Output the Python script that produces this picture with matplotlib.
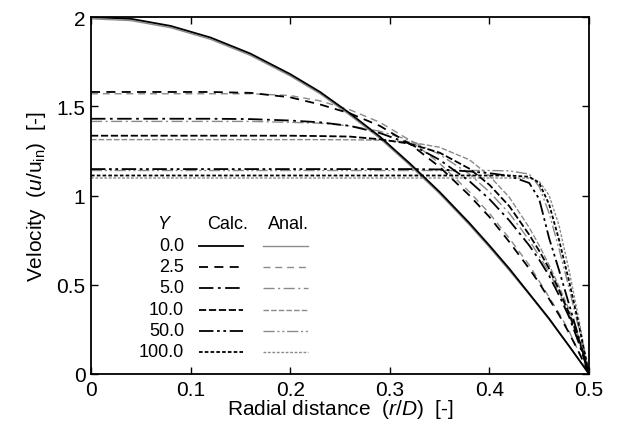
import numpy as np
import matplotlib
matplotlib.use("Agg")
import matplotlib.pyplot as plt

plt.rcParams['font.family'] = ['Liberation Sans', 'DejaVu Sans']
plt.rcParams['mathtext.fontset'] = 'custom'
plt.rcParams['mathtext.rm'] = 'Liberation Sans'
plt.rcParams['mathtext.it'] = 'Liberation Sans:italic'

# radial positions (r/D) shared by all profiles
r = [0, 0.04, 0.08, 0.12, 0.16, 0.2, 0.23, 0.26, 0.29, 0.32, 0.35,
     0.38, 0.40, 0.42, 0.44, 0.45, 0.46, 0.47, 0.48, 0.49, 0.5]

y_labels = ['0.0', '2.5', '5.0', '10.0', '50.0', '100.0']

# calculated profiles
calc_0 = [2.0, 1.99, 1.95, 1.885, 1.795, 1.68, 1.58, 1.46, 1.33, 1.18, 1.02,
          0.845, 0.72, 0.59, 0.45, 0.38, 0.31, 0.233, 0.157, 0.079, 0]
calc_2_5 = [1.58, 1.58, 1.58, 1.58, 1.575, 1.55, 1.51, 1.46, 1.39, 1.29, 1.16,
            1.0, 0.88, 0.74, 0.59, 0.51, 0.42, 0.33, 0.23, 0.12, 0]
calc_5 = [1.43, 1.43, 1.43, 1.43, 1.428, 1.42, 1.41, 1.39, 1.35, 1.29, 1.20,
          1.08, 0.98, 0.86, 0.72, 0.64, 0.55, 0.44, 0.32, 0.17, 0]
calc_10 = [1.335, 1.335, 1.335, 1.335, 1.335, 1.335, 1.333, 1.33, 1.315, 1.29, 1.24,
           1.15, 1.06, 0.94, 0.78, 0.69, 0.59, 0.47, 0.34, 0.19, 0]
calc_50 = [1.148, 1.148, 1.148, 1.148, 1.148, 1.148, 1.148, 1.148, 1.148, 1.148, 1.146,
           1.135, 1.125, 1.11, 1.07, 0.98, 0.76, 0.58, 0.39, 0.2, 0]
calc_100 = [1.112, 1.112, 1.112, 1.112, 1.112, 1.112, 1.112, 1.112, 1.112, 1.112, 1.112,
            1.112, 1.112, 1.112, 1.105, 1.07, 0.95, 0.75, 0.52, 0.27, 0]

# analytical profiles
anal_0 = [1.99, 1.98, 1.94, 1.875, 1.785, 1.67, 1.57, 1.45, 1.32, 1.17, 1.01,
          0.835, 0.71, 0.58, 0.445, 0.375, 0.305, 0.23, 0.155, 0.078, 0]
anal_2_5 = [1.57, 1.57, 1.57, 1.57, 1.57, 1.56, 1.53, 1.48, 1.41, 1.31, 1.18,
            1.02, 0.90, 0.76, 0.61, 0.52, 0.43, 0.34, 0.24, 0.12, 0]
anal_5 = [1.415, 1.415, 1.415, 1.415, 1.415, 1.41, 1.405, 1.39, 1.36, 1.31, 1.23,
          1.12, 1.02, 0.90, 0.75, 0.66, 0.57, 0.46, 0.33, 0.18, 0]
anal_10 = [1.313, 1.313, 1.313, 1.313, 1.313, 1.313, 1.313, 1.312, 1.31, 1.30, 1.27,
           1.20, 1.11, 0.99, 0.82, 0.72, 0.61, 0.49, 0.36, 0.20, 0]
anal_50 = [1.14, 1.14, 1.14, 1.14, 1.14, 1.14, 1.14, 1.14, 1.14, 1.14, 1.14,
           1.14, 1.14, 1.138, 1.12, 1.05, 0.90, 0.70, 0.48, 0.25, 0]
anal_100 = [1.098, 1.098, 1.098, 1.098, 1.098, 1.098, 1.098, 1.098, 1.098, 1.098, 1.098,
            1.098, 1.098, 1.098, 1.097, 1.08, 1.0, 0.83, 0.58, 0.30, 0]

calc = [calc_0, calc_2_5, calc_5, calc_10, calc_50, calc_100]
anal = [anal_0, anal_2_5, anal_5, anal_10, anal_50, anal_100]

styles = [
    '-',
    (0, (5, 3.5)),
    (0, (8, 2.5, 1.5, 2.5)),
    (0, (4, 1.5)),
    (0, (8, 2, 1.5, 2, 1.5, 2)),
    (0, (2, 1.2)),
]

fig = plt.figure(figsize=(6.19, 4.35), dpi=100)
ax = fig.add_axes([91 / 619, 1 - 375 / 435, 498 / 619, 357 / 435])

grey = '#8a8a8a'
for u, ls in zip(anal, styles):
    ax.plot(r, u, color=grey, lw=1.0, linestyle=ls)
for u, ls in zip(calc, styles):
    ax.plot(r, u, color='black', lw=1.3, linestyle=ls)

ax.set_xlim(0, 0.5)
ax.set_ylim(0, 2)
ax.set_xticks([0, 0.1, 0.2, 0.3, 0.4, 0.5])
ax.set_xticklabels(['0', '0.1', '0.2', '0.3', '0.4', '0.5'])
ax.set_yticks([0, 0.5, 1, 1.5, 2])
ax.set_yticklabels(['0', '0.5', '1', '1.5', '2'])
ax.tick_params(direction='in', top=True, right=True, length=5, width=1,
               labelsize=15, pad=4)
for s in ax.spines.values():
    s.set_linewidth(1.3)

ax.set_xlabel(r'Radial distance  ($\it{r}$/$\it{D}$)  [-]', fontsize=15, labelpad=-1)
ax.set_ylabel(r'Velocity  ($\it{u}$/u$_{\rm{in}}$)  [-]', fontsize=15, labelpad=6)

# hand-made legend table
def ax_x(px):
    return (px - 91) / 498

def ax_y(py):
    return (375 - py) / 357

tr = ax.transAxes
ax.text(ax_x(163), ax_y(225), 'Y', style='italic', fontsize=13, ha='center', va='center', transform=tr)
ax.text(ax_x(228), ax_y(225), 'Calc.', fontsize=13, ha='center', va='center', transform=tr)
ax.text(ax_x(288), ax_y(225), 'Anal.', fontsize=13, ha='center', va='center', transform=tr)
row_py = [247, 268, 289, 311, 332, 353]
for lab, ls, py in zip(y_labels, styles, row_py):
    ax.text(ax_x(184), ax_y(py), lab, fontsize=13, ha='right', va='center', transform=tr)
    ax.plot([ax_x(199), ax_x(243)], [ax_y(py), ax_y(py)], color='black', lw=1.3,
            linestyle=ls, transform=tr)
    ax.plot([ax_x(263), ax_x(308)], [ax_y(py), ax_y(py)], color=grey, lw=1.0,
            linestyle=ls, transform=tr)

fig.savefig('out.png', dpi=100)
